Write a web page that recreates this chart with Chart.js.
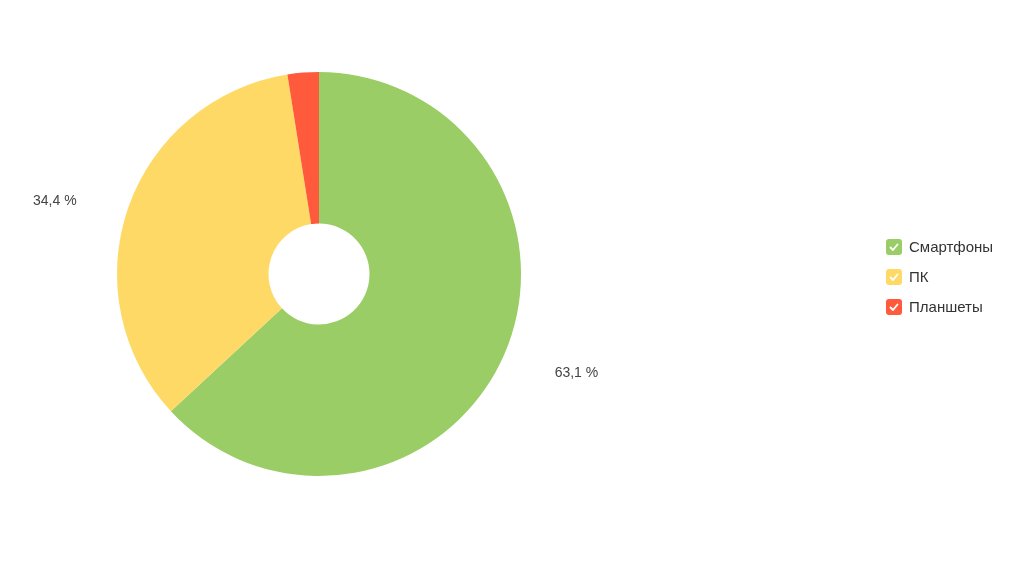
<!DOCTYPE html>
<html>
<head>
<meta charset="utf-8">
<script src="https://cdn.jsdelivr.net/npm/chart.js@4/dist/chart.umd.min.js"></script>
<style>
  html, body { margin: 0; padding: 0; background: #fff; }
  #wrap { position: relative; width: 1010px; height: 570px; }
</style>
</head>
<body>
<div id="wrap"><canvas id="device-chart" width="1010" height="570"></canvas></div>
<script>
const categories = ["Смартфоны", "ПК", "Планшеты"];
const shares = [63.1, 34.4, 2.5];
const sliceLabels = ["63,1 %", "34,4 %", ""];
const colors = ["#9acd65", "#ffd966", "#ff5a3c"];

// outside percentage labels, centred on a point beyond each slice
const outsideLabels = {
  id: "outsideLabels",
  afterDatasetsDraw(chart) {
    const ctx = chart.ctx;
    const meta = chart.getDatasetMeta(0);
    ctx.save();
    ctx.font = "14px 'Liberation Sans', Arial, sans-serif";
    ctx.fillStyle = "#444";
    ctx.textBaseline = "middle";
    ctx.textAlign = "center";
    meta.data.forEach(function (arc, i) {
      if (!sliceLabels[i]) return;
      const mid = (arc.startAngle + arc.endAngle) / 2 - 0.055;
      const d = arc.outerRadius * 1.36;
      const x = arc.x + Math.cos(mid) * d;
      const y = arc.y + Math.sin(mid) * d + 3;
      ctx.fillText(sliceLabels[i], x, y);
    });
    ctx.restore();
  }
};

// checkbox style legend on the right
const checkLegend = {
  id: "checkLegend",
  afterDraw(chart) {
    const ctx = chart.ctx;
    ctx.save();
    ctx.font = "15px 'Liberation Sans', Arial, sans-serif";
    ctx.textBaseline = "middle";
    categories.forEach(function (name, i) {
      const bx = 886, by = 239 + i * 30, s = 16;
      ctx.fillStyle = colors[i];
      ctx.beginPath();
      ctx.roundRect(bx, by, s, s, 3);
      ctx.fill();
      ctx.strokeStyle = "#fff";
      ctx.lineWidth = 1.8;
      ctx.lineCap = "round";
      ctx.lineJoin = "round";
      ctx.beginPath();
      ctx.moveTo(bx + 4.5, by + 8.5);
      ctx.lineTo(bx + 7, by + 11);
      ctx.lineTo(bx + 11.5, by + 5.5);
      ctx.stroke();
      ctx.fillStyle = "#333";
      ctx.textAlign = "left";
      ctx.fillText(name, bx + 23, by + s / 2 + 0.5);
    });
    ctx.restore();
  }
};

const ctx = document.getElementById("device-chart").getContext("2d");

new Chart(ctx, {
  type: "doughnut",
  data: {
    labels: categories,
    datasets: [
      {
        data: shares,
        backgroundColor: colors,
        borderWidth: 0,
        hoverOffset: 0,
      },
    ],
  },
  options: {
    responsive: false,
    animation: false,
    cutout: "25%",
    layout: {
      padding: { left: 117, right: 489, top: 72, bottom: 94 },
    },
    plugins: {
      legend: { display: false },
      tooltip: { enabled: false },
    },
  },
  plugins: [outsideLabels, checkLegend],
});
</script>
</body>
</html>
